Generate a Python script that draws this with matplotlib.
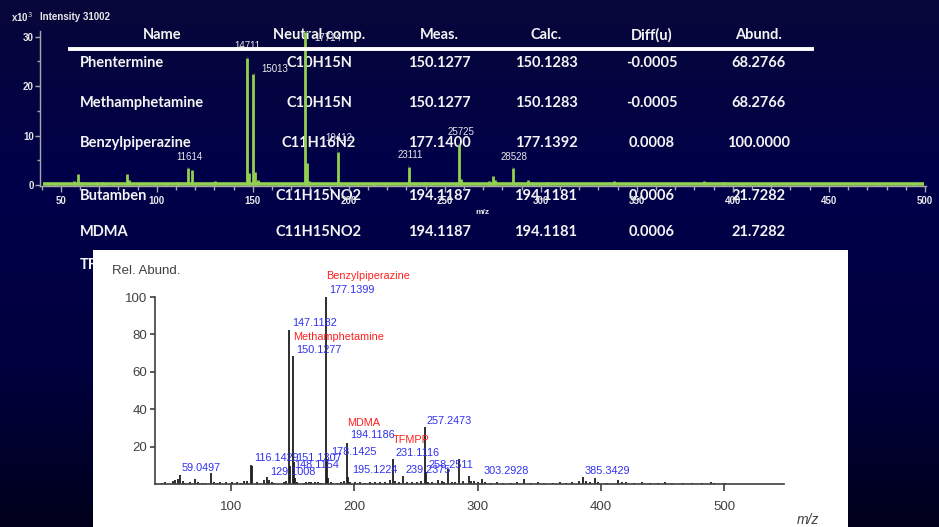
import numpy as np
import matplotlib.pyplot as plt
from matplotlib.colors import LinearSegmentedColormap
from matplotlib.lines import Line2D
from matplotlib.patches import Rectangle

W, H = 939, 527

# survey scan, intensity in units of 10^3 counts
survey_mz = [44, 47, 51, 54.8, 57, 59.05, 61, 65, 69, 71.3, 73, 77, 84.4, 85.5, 91,
             99, 105, 111, 116.14, 118.2, 120, 129.4, 130.4, 145, 147.11, 148.2,
             150.13, 151.2, 152.7, 158, 163, 165, 177.14, 178.4, 179.5, 194.12,
             195.5, 199, 205, 213, 219, 225, 231.11, 239.2, 243, 256, 257.25,
             258.5, 268, 273, 275, 276.3, 285.28, 287, 291, 293.2, 296, 299,
             303.4, 338, 385.2, 395.5, 405, 413, 420, 447, 476, 494]
survey_int = [0.3, 0.5, 0.4, 0.5, 0.9, 2.2, 0.6, 0.4, 0.7, 0.6, 0.5, 0.3, 2.2, 1.0, 0.5,
              0.4, 0.4, 0.6, 3.4, 3.0, 0.5, 0.7, 0.9, 0.3, 25.7, 2.4,
              22.4, 2.7, 1.0, 0.3, 0.4, 0.3, 31.0, 4.4, 0.9, 6.7,
              0.5, 0.4, 0.4, 0.3, 0.4, 0.3, 3.6, 0.6, 0.4, 0.5, 8.1,
              1.2, 0.4, 0.8, 1.9, 1.0, 3.4, 0.3, 0.4, 1.0, 0.5, 0.4,
              0.7, 0.8, 0.9, 0.6, 0.3, 0.3, 0.3, 0.2, 0.4, 0.3]
survey_range = [41.0, 499.5]
survey_intensity_max = 31002

# labelled survey peaks: m/z, intensity, label, label offset (points)
survey_tags = [(116.14, 3.4, "11614", (1.3, 8.3)),
               (147.11, 25.7, "14711", (0.0, 8.5)),
               (150.13, 22.4, "15013", (15.4, 3.7)),
               (177.14, 31.0, "17714", (16.6, -4.7)),
               (194.12, 6.7, "19412", (1.2, 10.2)),
               (231.11, 3.6, "23111", (0.9, 8.8)),
               (257.25, 8.1, "25725", (1.4, 9.1)),
               (285.28, 3.4, "28528", (1.2, 8.3))]

# accurate-mass table
headers = ["Name", "Neutral comp.", "Meas.", "Calc.", "Diff(u)", "Abund."]
names = ["Phentermine", "Methamphetamine", "Benzylpiperazine", "Butamben", "MDMA", "TFMPP"]
formulas = ["C10H15N", "C10H15N", "C11H16N2", "C11H15NO2", "C11H15NO2"]
measured = [150.1277, 150.1277, 177.1400, 194.1187, 194.1187]
calculated = [150.1283, 150.1283, 177.1392, 194.1181, 194.1181]
diffs = [-0.0005, -0.0005, 0.0008, 0.0006, 0.0006]
abundances = [68.2766, 68.2766, 100.0000, 21.7282, 21.7282]

# centroided spectrum, relative abundance
spec_mz = [44, 47, 53, 55, 57, 59.0497, 61, 63, 67, 70.9, 73, 77, 79, 83.7, 86, 89,
           91, 96, 101, 105, 108, 111, 113, 116.1429, 117.4, 121, 127, 129.1008,
           131, 133, 135, 143, 145, 147.1182, 148.1154, 150.1277, 151.1307, 152,
           154, 159, 161, 163, 165, 168, 171, 173, 177.1399, 178.1425, 179, 181,
           186, 189, 192, 194.1186, 195.1224, 197, 201, 205, 209, 213, 217, 221,
           225, 229, 231.1116, 233, 236, 239.2375, 243, 247, 251, 254, 257.2473,
           258.2511, 260, 263, 268, 271, 273, 275.9, 279, 282, 285.3, 288, 292.8,
           295, 297, 300, 303.2928, 306, 311, 316, 321, 327, 332, 338, 343, 349,
           354, 361, 367, 372, 377, 382, 385.3429, 388, 391, 395.4, 398, 405, 414,
           417, 420, 427, 433, 440, 446, 452, 458, 467, 474, 482, 489, 492, 501]
spec_abund = [0.8, 1.0, 1.5, 2.2, 2.6, 4.8, 1.5, 0.8, 0.9, 2.7, 1.0, 0.8, 0.7, 6.1, 1.0, 0.8,
              1.1, 0.9, 0.9, 1.0, 0.8, 1.5, 1.8, 10.2, 9.6, 1.0, 2.0, 3.8,
              2.4, 1.2, 0.8, 1.0, 1.4, 82.6, 9.5, 68.2766, 11.5, 3.0,
              1.0, 0.8, 1.0, 1.2, 0.9, 1.0, 1.1, 0.8, 100.0, 13.5, 3.0, 1.0,
              0.8, 1.2, 1.5, 21.7282, 4.0, 1.2, 1.0, 1.2, 0.8, 1.0, 1.2, 0.9,
              1.1, 2.0, 13.2, 1.8, 1.0, 4.2, 1.2, 1.0, 1.2, 1.4, 30.4,
              6.6, 1.2, 1.1, 2.0, 1.5, 1.2, 7.9, 1.0, 1.2, 13.2, 1.5, 4.5,
              1.8, 1.4, 1.2, 2.5, 1.0, 0.8, 0.9, 0.8, 0.8, 0.9, 2.8, 0.8, 0.9,
              0.8, 0.7, 0.9, 0.8, 1.0, 1.5, 3.6, 1.5, 1.0, 3.0, 1.2, 0.8, 2.0,
              1.2, 0.9, 0.8, 1.0, 0.8, 0.7, 1.0, 0.7, 0.7, 0.8, 0.7, 1.3, 0.8, 0.7]

# peak annotations: text, colour key, x, y (data coords of the label)
spec_tags = [("Benzylpiperazine", "id", 177.2, 111.0),
             ("177.1399", "mz", 179.6, 103.5),
             ("147.1182", "mz", 149.6, 86.3),
             ("Methamphetamine", "id", 150.4, 78.8),
             ("150.1277", "mz", 152.9, 71.8),
             ("MDMA", "id", 194.2, 32.7),
             ("194.1186", "mz", 196.7, 26.3),
             ("TFMPP", "id", 230.9, 23.6),
             ("231.1116", "mz", 233.1, 16.8),
             ("257.2473", "mz", 258.9, 33.8),
             ("178.1425", "mz", 181.0, 17.2),
             ("116.1429", "mz", 118.8, 13.8),
             ("151.1307", "mz", 152.9, 13.8),
             ("148.1154", "mz", 151.3, 10.2),
             ("129.1008", "mz", 131.8, 6.6),
             ("195.1224", "mz", 198.3, 7.5),
             ("59.0497", "mz", 60.4, 8.6),
             ("239.2375", "mz", 241.3, 7.5),
             ("258.2511", "mz", 259.9, 10.2),
             ("303.2928", "mz", 305.3, 7.0),
             ("385.3429", "mz", 387.2, 7.0)]

GREEN = "#92d050"
SCAN_TXT = "#e8e8e8"
SCAN_AX = "#a8a8a8"
INK = "#404040"
TAG_COLORS = {"id": "#ff2020", "mz": "#3030f0"}


def px_rect(x0, y0, x1, y1):
    return [x0 / W, 1 - y1 / H, (x1 - x0) / W, (y1 - y0) / H]


def fx(x):
    return x / W


def fy(y):
    return 1 - y / H


fig = plt.figure(figsize=(W / 100, H / 100), dpi=100)

# navy backdrop
bg = fig.add_axes([0, 0, 1, 1], zorder=0)
navy = LinearSegmentedColormap.from_list(
    "navy", [(0.0, "#07073a"), (0.35, "#00004a"), (0.7, "#00003e"), (1.0, "#00001c")])
bg.imshow(np.linspace(0, 1, 256)[:, None], aspect="auto", cmap=navy,
          extent=[0, 1, 0, 1])
bg.set_axis_off()

# table text
TABLE_FONT = dict(family=["Lato", "DejaVu Sans"], weight="bold", size=10.5,
                  color="#f4f4f4", va="center")
col_x = [162, 319, 439, 546, 652, 759]
row_y = [63.3, 103.3, 143.3, 196.0, 231.7, 265.0]
for x, h in zip(col_x, headers):
    fig.text(fx(x), fy(35), h, ha="center", zorder=2, **TABLE_FONT)
for i, name in enumerate(names):
    fig.text(fx(80), fy(row_y[i]), name, ha="left", zorder=2, **TABLE_FONT)
for i in range(len(formulas)):
    cells = [formulas[i], f"{measured[i]:.4f}", f"{calculated[i]:.4f}",
             f"{diffs[i]:.4f}", f"{abundances[i]:.4f}"]
    for x, s in zip(col_x[1:], cells):
        fig.text(fx(x), fy(row_y[i]), s, ha="center", zorder=2, **TABLE_FONT)

# survey scan
ax1 = fig.add_axes(px_rect(40, 30.6, 925.5, 186), zorder=3)
ax1.set_facecolor("none")
ax1.plot(survey_range, [0.12, 0.12], color=GREEN, lw=2.6, solid_capstyle="butt")
ax1.vlines(survey_mz, 0, survey_int, color=GREEN, lw=2.0)
ax1.set_xlim(39.2, 500.3)
ax1.set_ylim(-0.2, 31.2)
for s in ("top", "right"):
    ax1.spines[s].set_visible(False)
for s in ("left", "bottom"):
    ax1.spines[s].set_color(SCAN_AX)
    ax1.spines[s].set_linewidth(1.0)
ax1.set_xticks(np.arange(50, 501, 50))
ax1.set_xticks(np.arange(40, 501, 10), minor=True)
ax1.set_yticks([0, 10, 20, 30])
ax1.set_yticks([5, 15, 25], minor=True)
ax1.tick_params(which="major", colors=SCAN_AX, labelcolor=SCAN_TXT, labelsize=7,
                width=1.0)
ax1.tick_params(axis="x", which="major", length=4.5, pad=3)
ax1.tick_params(axis="x", which="minor", length=3, colors=SCAN_AX, width=1.0)
ax1.tick_params(axis="y", which="major", length=3.5, pad=1)
ax1.tick_params(axis="y", which="minor", length=2.5, colors=SCAN_AX, width=1.0)
for lab in ax1.get_xticklabels() + ax1.get_yticklabels():
    lab.set_fontweight("bold")
    lab.set_family("Liberation Sans")
for mz, inten, txt, off in survey_tags:
    ax1.annotate(txt, (mz, inten), xytext=off, textcoords="offset points",
                 ha="center", va="center", fontsize=7, color=SCAN_TXT,
                 family="Liberation Sans", annotation_clip=False,
                 arrowprops=dict(arrowstyle="-", color="#3a3a3a", lw=0.6,
                                 shrinkA=2, shrinkB=0))

fig.text(fx(11), fy(17), r"x10$^{3}$", ha="left", va="center", fontsize=7,
         color=SCAN_TXT, weight="bold", family="Liberation Sans", zorder=3)
fig.text(fx(40), fy(17), f"Intensity {survey_intensity_max}", ha="left", va="center",
         fontsize=7, color=SCAN_TXT, weight="bold", family="Liberation Sans", zorder=3)
fig.text(fx(482), fy(213), "m/z", ha="center", va="center", fontsize=6,
         color=SCAN_TXT, weight="bold", family="Liberation Sans", zorder=3)

# rule under the table header
fig.add_artist(Line2D([fx(70), fx(812)], [fy(49), fy(49)], color="white", lw=2.8,
                      transform=fig.transFigure, zorder=4))

# white panel holding the centroided spectrum
fig.add_artist(Rectangle((fx(93), 0), fx(848) - fx(93), fy(250), facecolor="white",
                         edgecolor="none", transform=fig.transFigure, zorder=5))

ax2 = fig.add_axes(px_rect(155, 297, 784, 484), zorder=6)
ax2.set_facecolor("none")
ax2.vlines(spec_mz, 0, spec_abund, color="#1e1e1e", lw=1.3)
ax2.set_xlim(38.5, 548.5)
ax2.set_ylim(0, 100)
for s in ("top", "right"):
    ax2.spines[s].set_visible(False)
for s in ("left", "bottom"):
    ax2.spines[s].set_color(INK)
    ax2.spines[s].set_linewidth(1.2)
ax2.set_xticks([100, 200, 300, 400, 500])
ax2.set_yticks([20, 40, 60, 80, 100])
ax2.tick_params(colors=INK, labelcolor=INK, labelsize=9.5, width=1.2)
ax2.tick_params(axis="x", length=5, pad=7)
ax2.tick_params(axis="y", length=3.6, pad=2)
for lab in ax2.get_xticklabels() + ax2.get_yticklabels():
    lab.set_family("Liberation Sans")
for txt, kind, x, y in spec_tags:
    ax2.text(x, y, txt, ha="left", va="center", fontsize=7.8,
             color=TAG_COLORS[kind], family="Liberation Sans", clip_on=False)

fig.text(fx(112), fy(271), "Rel. Abund.", ha="left", va="center", fontsize=9.5,
         color=INK, family="Liberation Sans", zorder=7)
fig.text(fx(808), fy(520), "m/z", ha="center", va="center", fontsize=10,
         color=INK, style="italic", family="Liberation Sans", zorder=7)

fig.savefig("out.png", dpi=100)
